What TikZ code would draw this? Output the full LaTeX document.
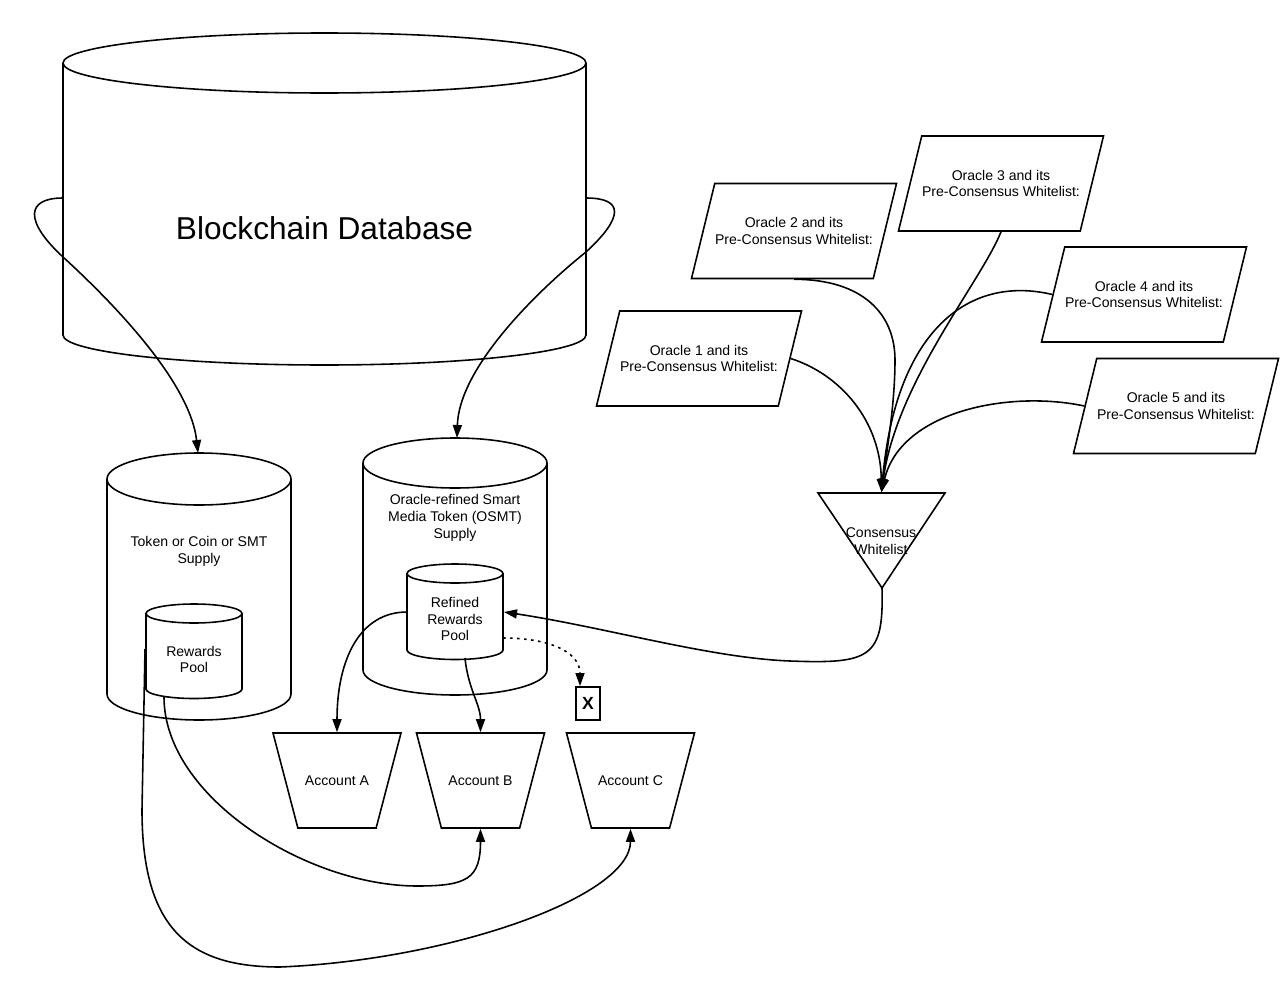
\documentclass[tikz,border=0pt]{standalone}
\usepackage{fontspec}
\setmainfont{Liberation Sans}
\usetikzlibrary{shapes.geometric,arrows.meta}

\newcommand{\smalltxt}{\fontsize{8}{9.6}\selectfont}
% x, top y, bottom y, x radius, y radius
\newcommand{\drum}[5]{%
  \draw[shp] (#1-#4,#2) -- (#1-#4,#3) arc[start angle=180,end angle=0,x radius=#4,y radius=#5] -- (#1+#4,#2);
  \draw[shp] (#1,#2) ellipse[x radius=#4,y radius=#5];
}

\tikzset{
  shp/.style={line width=0.9pt},
  lbl/.style={align=center, font=\smalltxt, inner sep=0pt},
  flow/.style={line width=0.9pt, -{Triangle[length=2.6mm,width=1.8mm]}},
  oracle/.style={draw, shp, trapezium, trapezium left angle=76, trapezium right angle=104,
    trapezium stretches body=true, inner xsep=0pt, inner ysep=6.6mm, minimum width=41mm, minimum height=19mm,
    align=center, font=\smalltxt},
  acct/.style={draw, shp, trapezium, trapezium angle=75, shape border rotate=180,
    trapezium stretches body=true, inner ysep=8.3mm, minimum width=25.6mm, minimum height=19mm,
    font=\smalltxt}
}

\begin{document}
\begin{tikzpicture}[x=0.2mm,y=-0.2mm]
\useasboundingbox (0,0) rectangle (1280,1000);

	% databases
	\drum{324.5}{63}{335}{261.5}{30}
	\node[font=\fontsize{18}{22}\selectfont] (bcdb) at (324.5,228) {Blockchain Database};
	\coordinate (bcdb-w) at (63,198);
	\coordinate (bcdb-e) at (586,198);

	\drum{199}{479}{694}{92}{26}
	\node[lbl] (supply) at (199,551.5) {Token or Coin or SMT\\Supply};
	\coordinate (supply-n) at (198,453);

	\drum{194}{613.5}{689}{48}{9.5}
	\node[lbl] (rpool) at (194,659.5) {Rewards\\Pool};
	\coordinate (rpool-w) at (145,649);
	\coordinate (rpool-s) at (164,697);

	\drum{455}{463}{670}{92}{25}
	\node[lbl] (osmt) at (455,517.5) {Oracle-refined Smart\\Media Token (OSMT)\\Supply};
	\coordinate (osmt-n) at (457,438);

	\drum{455}{573.5}{650}{48}{9.5}
	\node[lbl] (rrpool) at (455,619) {Refined\\Rewards\\Pool};
	\coordinate (rrpool-w) at (407,612);
	\coordinate (rrpool-s) at (465,658);
	\coordinate (rrpool-e) at (504,612);
	\coordinate (rrpool-se) at (503,638);

	% accounts
	\node[acct] (acA) at (337,780.5) {Account A};
	\node[acct] (acB) at (480.5,780.5) {Account B};
	\node[acct] (acC) at (630.5,780.5) {Account C};
	\node[draw, line width=1pt, minimum width=4.8mm, minimum height=6.6mm, inner sep=0pt,
	  font=\bfseries\fontsize{10}{12}\selectfont] (xbox) at (588,703.5) {X};

	% oracles
	\node[oracle] (or1) at (699,358.5) {Oracle 1 and its\\Pre-Consensus Whitelist:};
	\node[oracle] (or2) at (794,231) {Oracle 2 and its\\Pre-Consensus Whitelist:};
	\node[oracle] (or3) at (1001,183.5) {Oracle 3 and its\\Pre-Consensus Whitelist:};
	\node[oracle] (or4) at (1144,294.5) {Oracle 4 and its\\Pre-Consensus Whitelist:};
	\node[oracle] (or5) at (1176,406) {Oracle 5 and its\\Pre-Consensus Whitelist:};

	% consensus
	\draw[shp] (818,493) -- (945,493) -- (882,588) -- cycle;
	\coordinate (cwtop) at (881.5,492);
	\coordinate (cwbot) at (882,588);
	\node[lbl] (cw) at (881,541) {Consensus\\Whitelist};

	\draw[flow] (or1.east) .. controls +(50,16) and +(-1,-71) .. (cwtop);
	\draw[flow] (or2.south) .. controls +(70,0) and +(0,-45) .. (895,360) .. controls +(0,45) and +(5,-40) .. (cwtop);
	\draw[flow] (or3.south) .. controls +(-20,50) and +(15,-110) .. (cwtop);
	\draw[flow] (or4.west) .. controls +(-84,-20) and +(14,-161) .. (cwtop);
	\draw[flow] (or5.west) .. controls +(-75,-16) and +(19,-81) .. (cwtop);

	\draw[flow] (cwbot) .. controls +(2,70) and +(80,3) .. (790,661) .. controls +(-80,-3) and +(100,15) .. (rrpool-e);

	% supply flows
	\draw[flow] (bcdb-w) .. controls +(-38,0) and +(-38,-35) .. (63,257) .. controls +(47,43) and +(-8,-72) .. (supply-n);
	\draw[flow] (bcdb-e) .. controls +(38,0) and +(38,-35) .. (586,252) .. controls +(-50,40) and +(2,-70) .. (osmt-n);

	\draw[flow] (rrpool-w) .. controls +(-47,0) and +(0,-73) .. (acA.north);
	\draw[flow] (rrpool-s) .. controls +(3,31) and +(0,-28) .. (acB.north);
	\draw[flow, dash pattern=on 1.5pt off 2.5pt] (rrpool-se) .. controls +(45,0) and +(0,-35) .. ([xshift=-1.6mm]xbox.north);

	\draw[flow] (rpool-s) .. controls +(0,100) and +(-110,0) .. (417,886) .. controls +(50,0) and +(0,50) .. (acB.south);
	\draw[flow] (rpool-w) -- (142,810) .. controls +(0,120) and +(-90,0) .. (280,967) .. controls +(170,-7) and +(0,68) .. (acC.south);
\end{tikzpicture}
\end{document}
